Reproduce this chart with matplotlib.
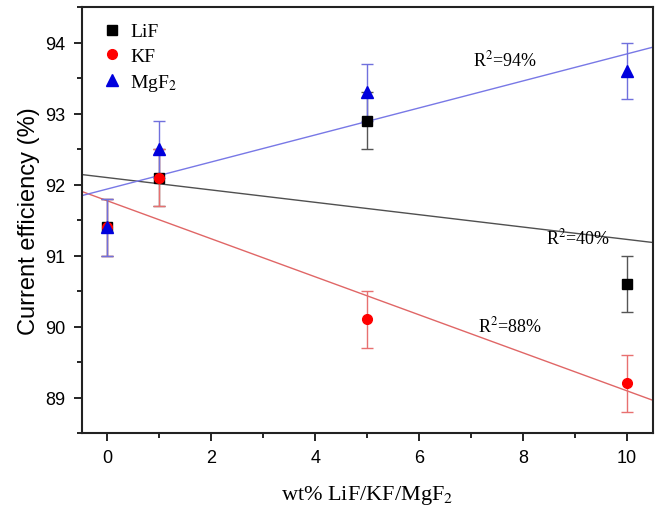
import numpy as np
import matplotlib

matplotlib.use("Agg")
import matplotlib.pyplot as plt
from matplotlib.ticker import MultipleLocator

plt.rcParams["mathtext.fontset"] = "stix"

# wt% additive
x = [0, 1, 5, 10]
lif = [91.4, 92.1, 92.9, 90.6]
kf = [91.4, 92.1, 90.1, 89.2]
mgf2 = [91.4, 92.5, 93.3, 93.6]
err = [0.4, 0.4, 0.4, 0.4]

r2_labels = ["R$^2$=40%", "R$^2$=88%", "R$^2$=94%"]
r2_pos = [(9.05, 91.25), (7.75, 90.02), (7.65, 93.77)]

serif = "Liberation Serif"
sans = "Liberation Sans"

fig = plt.figure(figsize=(6.6, 5.1), dpi=100)
ax = fig.add_axes([0.1235, 0.149, 0.866, 0.835])

series = [
    ("LiF", lif, "s", "black", "#555555", "#505050", 6.5),
    ("KF", kf, "o", "red", "#e87070", "#e06666", 7),
    ("MgF$_2$", mgf2, "^", "#0000dd", "#7070dd", "#7878e6", 8.5),
]

xfit = np.array([-0.5, 10.5])
for name, y, mk, col, ecol, lcol, ms in series:
    k, b = np.polyfit(x, y, 1)
    ax.plot(xfit, k * xfit + b, color=lcol, lw=1.0, zorder=1)
    ax.errorbar(x, y, yerr=err, fmt=mk, color=col, ecolor=ecol, elinewidth=1.0,
                capsize=4, capthick=1.0, markersize=ms, label=name, zorder=3)

for t, (tx, ty) in zip(r2_labels, r2_pos):
    ax.text(tx, ty, t, fontsize=13, family=serif, ha="center", va="center")

ax.set_xlim(-0.5, 10.5)
ax.set_ylim(88.5, 94.5)
ax.xaxis.set_major_locator(MultipleLocator(2))
ax.xaxis.set_minor_locator(MultipleLocator(1))
ax.yaxis.set_major_locator(MultipleLocator(1))
ax.yaxis.set_minor_locator(MultipleLocator(0.5))
ax.tick_params(which="both", direction="out", top=False, right=False, width=1.2)
ax.tick_params(which="major", length=5.5, labelsize=13, pad=6)
ax.tick_params(which="minor", length=3.5)
for lab in ax.get_xticklabels() + ax.get_yticklabels():
    lab.set_family(sans)
for s in ax.spines.values():
    s.set_linewidth(1.5)
    s.set_color("#222222")

ax.set_xlabel("wt% LiF/KF/MgF$_2$", fontsize=16, family=serif, labelpad=12)
ax.set_ylabel("Current efficiency (%)", fontsize=17, family=sans, labelpad=4)

handles, labels = ax.get_legend_handles_labels()
handles = [h[0] for h in handles]
ax.legend(handles, labels, loc="upper left", frameon=False, prop={"family": serif, "size": 14},
          handletextpad=0.2, borderaxespad=0.4, labelspacing=0.35, handlelength=1.5)

fig.savefig("out.png", dpi=100)
